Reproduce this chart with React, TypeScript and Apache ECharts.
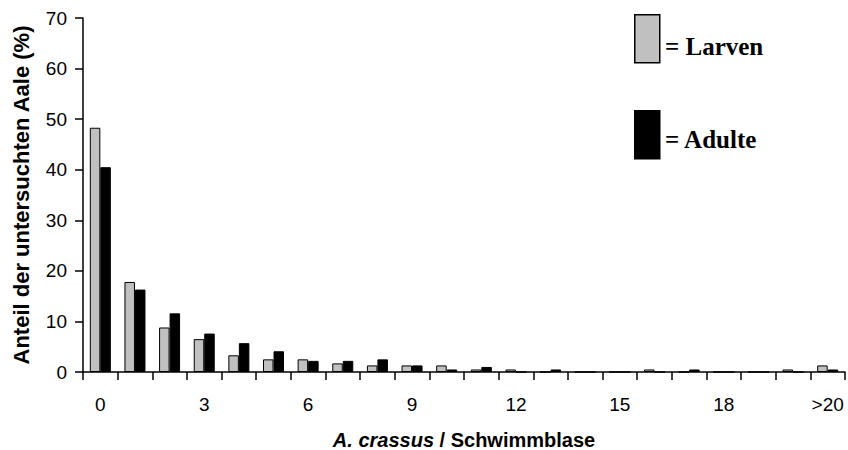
import React, { useEffect, useRef } from "react";
import * as echarts from "echarts";

const categories = ["0","1","2","3","4","5","6","7","8","9","10","11","12","13","14","15","16","17","18","19","20",">20"];
const larven = [48.3, 17.8, 8.8, 6.5, 3.3, 2.5, 2.5, 1.7, 1.3, 1.3, 1.3, 0.5, 0.5, 0, 0, 0, 0.5, 0, 0, 0, 0.5, 1.3];
const adulte = [40.5, 16.3, 11.6, 7.6, 5.7, 4.1, 2.2, 2.2, 2.5, 1.3, 0.5, 1.0, 0, 0.5, 0, 0, 0, 0.5, 0, 0, 0, 0.5];
const yTitle = "Anteil der untersuchten Aale (%)";
const legendLabels = ["= Larven", "= Adulte"];

const SANS = '"Liberation Sans", Arial, sans-serif';
const SERIF = '"Liberation Serif", "Times New Roman", serif';

export default function App() {
  const ref = useRef<HTMLDivElement>(null);
  useEffect(() => {
    document.body.style.margin = "0";
    const chart = echarts.init(ref.current!, null, { renderer: "svg" });
    chart.setOption({
      animation: false,
      backgroundColor: "#ffffff",
      grid: { left: 83, right: 3, top: 18, bottom: 78, containLabel: false, outerBoundsMode: "none" },
      xAxis: {
        type: "category",
        data: categories,
        boundaryGap: true,
        name: "{i|A. crassus} / Schwimmblase",
        nameLocation: "middle",
        nameGap: 58,
        nameMoveOverlap: false,
        nameTextStyle: {
          fontFamily: SANS, fontSize: 20, fontWeight: "bold", color: "#000",
          rich: { i: { fontFamily: SANS, fontSize: 20, fontWeight: "bold", fontStyle: "italic", color: "#000" } },
        },
        axisLine: { lineStyle: { color: "#000", width: 1.5 } },
        axisTick: { show: true, interval: 0, length: 8, inside: false, alignWithLabel: false, lineStyle: { color: "#000", width: 1.5 } },
        axisLabel: { interval: 2, margin: 23, fontFamily: SANS, fontSize: 19, color: "#000" },
        splitLine: { show: false },
      },
      yAxis: {
        type: "value",
        min: 0, max: 70, interval: 10,
        name: yTitle,
        nameLocation: "middle",
        nameGap: 51,
        nameMoveOverlap: false,
        nameTextStyle: { fontFamily: SANS, fontSize: 22, fontWeight: "bold", color: "#000" },
        axisLine: { show: true, lineStyle: { color: "#000", width: 1.5 } },
        axisTick: { show: true, length: 8, lineStyle: { color: "#000", width: 1.5 } },
        axisLabel: { margin: 16, fontFamily: SANS, fontSize: 19, color: "#000" },
        splitLine: { show: false },
      },
      series: [
        {
          name: "Larven", type: "bar", data: larven, barWidth: 10.5, barGap: "0%",
          itemStyle: { color: "#c0c0c0", borderColor: "#000", borderWidth: 1 },
        },
        {
          name: "Adulte", type: "bar", data: adulte, barWidth: 10.5,
          itemStyle: { color: "#000", borderColor: "#000", borderWidth: 1 },
        },
      ],
      graphic: [
        { type: "rect", left: 634, top: 14, shape: { width: 25, height: 48 }, style: { fill: "#c0c0c0", stroke: "#000", lineWidth: 1.5 } },
        { type: "text", left: 665, top: 34, style: { text: legendLabels[0], fontFamily: SERIF, fontSize: 25, fontWeight: "bold", fill: "#000" } },
        { type: "rect", left: 634, top: 110, shape: { width: 25, height: 48 }, style: { fill: "#000", stroke: "#000", lineWidth: 1.5 } },
        { type: "text", left: 665, top: 127, style: { text: legendLabels[1], fontFamily: SERIF, fontSize: 25, fontWeight: "bold", fill: "#000" } },
      ],
    });
    return () => chart.dispose();
  }, []);
  return <div ref={ref} style={{ width: 848, height: 450 }} />;
}
